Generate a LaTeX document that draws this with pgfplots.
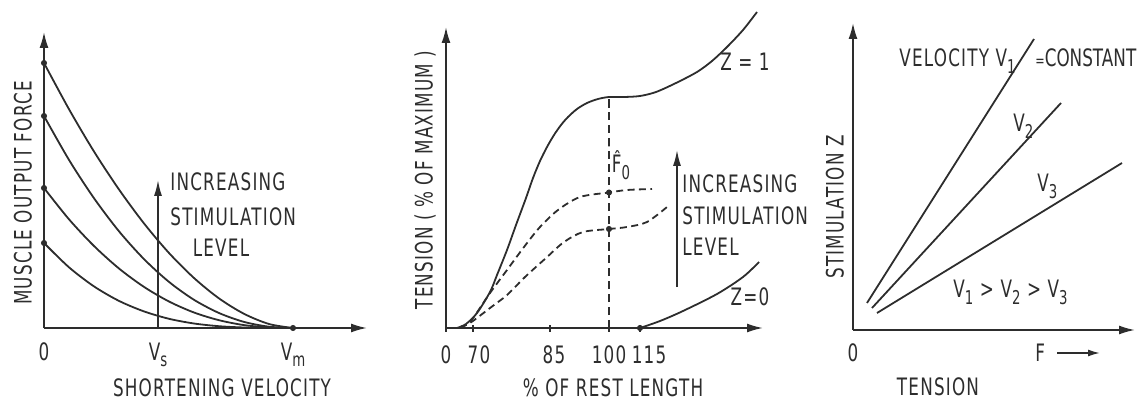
\documentclass[border=0pt]{standalone}
\usepackage{fontspec}
\setmainfont{DejaVu Sans}[FakeStretch=0.7, LetterSpace=5]
\usepackage{pgfplots}
\pgfplotsset{compat=1.18}
\usetikzlibrary{arrows.meta}
\definecolor{ink}{RGB}{45,45,45}
\newcommand\lf{\fontsize{12}{14}\selectfont}
\newcommand\sub[1]{\raisebox{-0.5ex}{\fontsize{9.5}{10}\selectfont #1}}
\pgfplotsset{
  sketch/.style={
    x=0.5pt, y=0.5pt, anchor=south west, clip=false,
    axis lines=left, enlargelimits=false,
    axis line style={ink, line width=0.9pt, -{Latex[length=8pt,width=4.5pt]}},
    xmin=0, ymin=0,
    major tick length=0pt,
    ytick=\empty,
    tick style={ink, line width=0.8pt},
    xticklabel style={font=\lf, text=ink, anchor=base, yshift=-16pt},
  },
  curve/.style={ink, line width=0.9pt, smooth, no marks},
  dots/.style={ink, only marks, mark=*, mark size=1.3pt},
}
\tikzset{txt/.style={font=\lf, text=ink, inner sep=0pt}}
\begin{document}
\begin{tikzpicture}
\path[use as bounding box] (0,0) rectangle (570pt,203.5pt);

% ---------- Panel 1 ----------
\begin{axis}[sketch, at={(22pt,39.5pt)}, xmax=323, ymax=296,
  xtick={0,114,249}, xticklabels={0,V\sub{s},V\sub{m}}]
\addplot[curve] coordinates {(0,265) (25,218.8) (50,176.5) (75,138.5) (100,104.6) (125,75.0) (150,50.0) (175,29.6) (200,14.2) (225,4.0) (249,0)};
\addplot[curve] coordinates {(0,212) (25,168.1) (50,129.8) (75,96.7) (100,68.9) (125,46.1) (150,28.2) (175,15.0) (200,6.1) (225,1.3) (249,0)};
\addplot[curve] coordinates {(0,140) (25,108.7) (50,82.0) (75,59.5) (100,41.1) (125,26.5) (150,15.5) (175,7.8) (200,2.9) (225,0.6) (249,0)};
\addplot[curve] coordinates {(0,85) (25,60.7) (50,41.6) (75,27.1) (100,16.6) (125,9.2) (150,4.5) (175,1.8) (200,0.5) (225,0.05) (249,0)};
\addplot[dots] coordinates {(0,265) (0,212) (0,140) (0,85) (249,0)};
\draw[ink, line width=0.8pt, -{Latex[length=8pt,width=4pt]}] (axis cs:114,0) -- (axis cs:114,148);
\node[txt, anchor=west] at (axis cs:126,146) {INCREASING};
\node[txt, anchor=west] at (axis cs:126,111) {STIMULATION};
\node[txt] at (axis cs:177,80) {LEVEL};
\node[txt, rotate=90] at (axis cs:-21,135) {MUSCLE OUTPUT FORCE};
\node[txt] at (axis cs:178,-60) {SHORTENING VELOCITY};
\end{axis}

% ---------- Panel 2 ----------
\begin{axis}[sketch, at={(223pt,39.5pt)}, xmax=317, ymax=301,
  xtick={0,27,104,163,194}, xticklabels={0,\hspace{6pt}70,\hspace{4pt}85,100,\hspace{9pt}115},
  major tick length=3.5pt, tick align=center]
\addplot[curve] coordinates {(11,0) (20,4) (31,15) (44,36) (51,53) (61,78) (70,103) (80,130) (87,150) (94,167) (101,181) (108,193) (115,203) (122,211) (131,219) (141,225) (152,229) (163,231) (178,231) (194,232) (210,236) (230,245) (251,256) (266,267) (281,281) (297,298) (311,316)};
\addplot[curve, dash pattern=on 3.5pt off 2.2pt] coordinates {(14,1) (24,6) (44,35) (61,58) (78,81) (94,101) (112,118) (134,131) (163,135.5) (181,138) (206,139)};
\addplot[curve, dash pattern=on 3.5pt off 2.2pt] coordinates {(14,1) (24,5) (44,20) (61,33) (79,51) (100,70) (118,86) (137,96) (163,99) (181,101) (201,106) (221,121)};
\addplot[curve, dash pattern=on 4pt off 2.5pt, line width=0.8pt] coordinates {(163,0) (163,231)};
\addplot[curve] coordinates {(194,0) (214,7) (237,17) (271,34) (297,51) (313,66)};
\addplot[dots] coordinates {(163,135.5) (163,99) (194,0)};
\draw[ink, line width=0.8pt, -{Latex[length=8pt,width=4pt]}] (axis cs:231,41) -- (axis cs:231,178);
\node[txt, anchor=west] at (axis cs:236,144) {INCREASING};
\node[txt, anchor=west] at (axis cs:236,112) {STIMULATION};
\node[txt, anchor=west] at (axis cs:236,81) {LEVEL};
\node[txt] at (axis cs:299,266) {Z = 1};
\node[txt] at (axis cs:304,31) {Z=0};
\node[txt] at (axis cs:175,163) {\^{F}\sub{0}};
\node[txt, rotate=90] at (axis cs:-21,148) {TENSION ( \% OF MAXIMUM )};
\node[txt] at (axis cs:167,-60) {\% OF REST LENGTH};
\end{axis}

% ---------- Panel 3 ----------
\begin{axis}[sketch, at={(426.5pt,38.5pt)}, xmax=282, ymax=307,
  xtick={0}, xticklabels={0}]
\addplot[curve] coordinates {(14,27) (181,291)};
\addplot[curve] coordinates {(19,22) (208,227)};
\addplot[curve] coordinates {(24,17) (269,167)};
\node[txt, anchor=base east] at (axis cs:163,263) {VELOCITY V\sub{1}};
\node[txt, anchor=base west] at (axis cs:182,263) {\addfontfeatures{LetterSpace=0}{\fontsize{8}{9}\selectfont =}CONSTANT};
\node[txt, anchor=base west] at (axis cs:160,198) {V\sub{2}};
\node[txt, anchor=base west] at (axis cs:184,138) {V\sub{3}};
\node[txt, anchor=base west] at (axis cs:100,32) {V\sub{1} > V\sub{2} > V\sub{3}};
\node[txt, anchor=base west] at (axis cs:182,-32) {F};
\draw[ink, line width=0.8pt, -{Latex[length=6pt,width=3.5pt]}] (axis cs:204,-23) -- (axis cs:247,-23);
\node[txt, rotate=90] at (axis cs:-18,123) {STIMULATION Z};
\node[txt] at (axis cs:85,-57) {TENSION};
\end{axis}
\end{tikzpicture}
\end{document}
